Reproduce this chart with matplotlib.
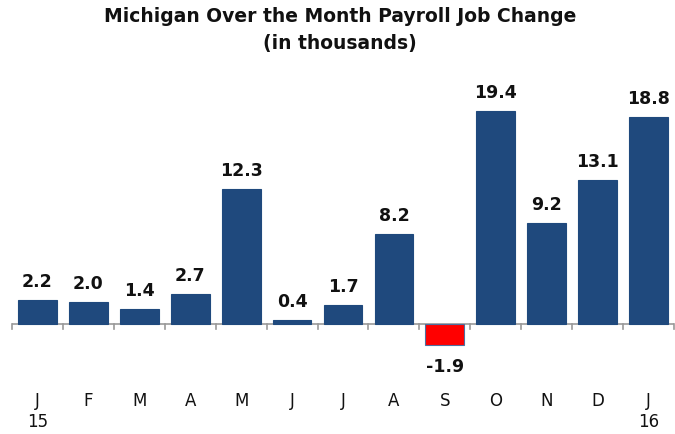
import numpy as np
import matplotlib.pyplot as plt

months = ['J', 'F', 'M', 'A', 'M', 'J', 'J', 'A', 'S', 'O', 'N', 'D', 'J']
years = ['15', '', '', '', '', '', '', '', '', '', '', '', '16']
values = [2.2, 2.0, 1.4, 2.7, 12.3, 0.4, 1.7, 8.2, -1.9, 19.4, 9.2, 13.1, 18.8]

x = np.arange(len(values))
colors = ['#FF0000' if v < 0 else '#1F497D' for v in values]
edges = ['#4F6F9F' if v < 0 else '#1F497D' for v in values]

fig = plt.figure(figsize=(6.75, 4.35), dpi=100)
ax = fig.add_axes([12 / 675, 1 - 350 / 435, 662 / 675, 290 / 435])

ax.bar(x, values, width=0.76, color=colors, edgecolor=edges, linewidth=0.8)

for xi, v in zip(x, values):
    if v >= 0:
        ax.text(xi, v + 0.9, f'{v:.1f}', ha='center', va='bottom',
                fontsize=12.5, fontweight='bold', color='#111111')
    else:
        ax.text(xi, v - 1.1, f'{v:.1f}', ha='center', va='top',
                fontsize=12.5, fontweight='bold', color='#111111')

ax.set_xlim(-0.5, len(values) - 0.5)
ax.set_ylim(-2.27, 24.1)

# axis line at zero with ticks at the category boundaries
ax.axhline(0, color='#999999', linewidth=1.2, zorder=0.5)
for b in np.arange(-0.5, len(values), 1.0):
    ax.plot([b, b], [0, -0.45], color='#999999', linewidth=1.2, clip_on=False)

for sp in ax.spines.values():
    sp.set_visible(False)
ax.set_xticks([])
ax.set_yticks([])

for xi, m, yr in zip(x, months, years):
    ax.annotate(m, (xi, 0), xytext=(0, -55), textcoords='offset points',
                ha='center', va='center', fontsize=12, color='#111111',
                annotation_clip=False)
    if yr:
        ax.annotate(yr, (xi, 0), xytext=(0, -70), textcoords='offset points',
                    ha='center', va='center', fontsize=12, color='#111111',
                    annotation_clip=False)

fig.text(340 / 675, 1 - 17 / 435, 'Michigan Over the Month Payroll Job Change',
         ha='center', va='center', fontsize=13.5, fontweight='bold', color='#111111')
fig.text(340 / 675, 1 - 43 / 435, '(in thousands)',
         ha='center', va='center', fontsize=13.5, fontweight='bold', color='#111111')

fig.savefig('out.png', dpi=100)
